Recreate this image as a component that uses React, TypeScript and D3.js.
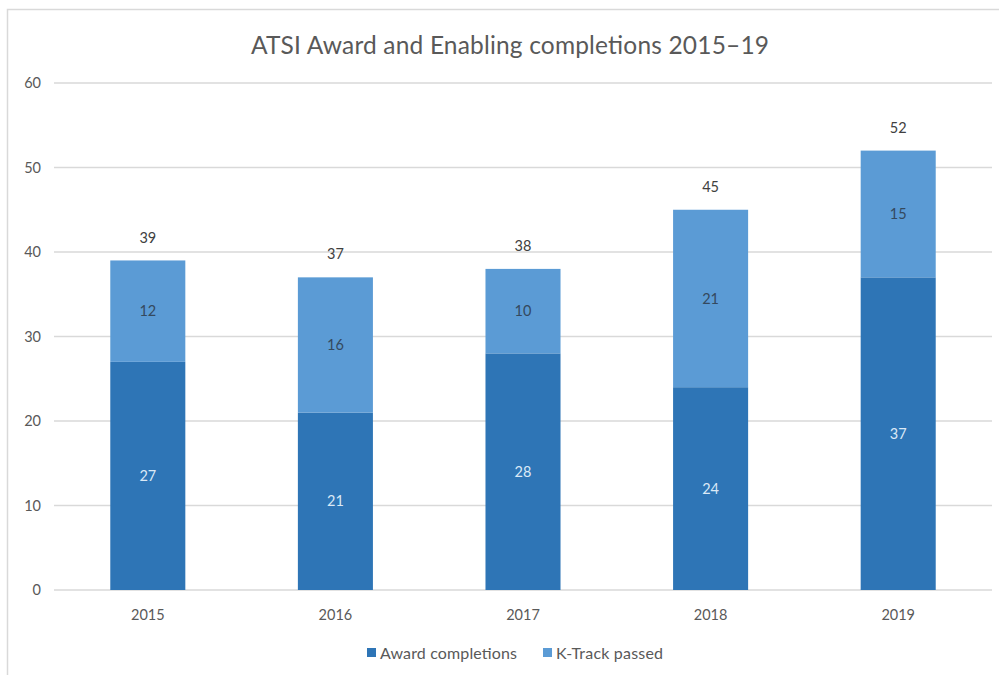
import React from "react";
import * as d3 from "d3";

const years = ["2015", "2016", "2017", "2018", "2019"];
const award = [27, 21, 28, 24, 37];
const ktrack = [12, 16, 10, 21, 15];
const totals = [39, 37, 38, 45, 52];
const yTicks = [0, 10, 20, 30, 40, 50, 60];
const seriesNames = ["Award completions", "K-Track passed"];
const colors = ["#2E75B6", "#5B9BD5"];

const W = 999;
const H = 675;
const font = "Lato, 'Open Sans', sans-serif";

export default function App() {
  const x = d3.scaleBand().domain(years).range([54, 992]).paddingInner(0.6).paddingOuter(0.3);
  const y = d3.scaleLinear().domain([0, 60]).range([590, 83]);
  const bw = x.bandwidth();

  return (
    <svg width={W} height={H} style={{ position: "absolute", left: 0, top: 0, background: "#fff" }} fontFamily={font}>
      <rect x={7.5} y={9.5} width={995} height={700} fill="#fff" stroke="#d9d9d9" strokeWidth={1.5} />
      <text x={510} y={54} textAnchor="middle" fontSize={24.5} fill="#595959" textLength={518} lengthAdjust="spacing">
        ATSI Award and Enabling completions 2015–19
      </text>
      {yTicks.map((t) => (
        <g key={t}>
          <line x1={54} x2={992} y1={y(t)} y2={y(t)} stroke="#d9d9d9" strokeWidth={1.5} />
          <text x={41} y={y(t)} dy="0.35em" textAnchor="end" fontSize={14.5} fill="#595959">
            {t}
          </text>
        </g>
      ))}
      {years.map((yr, i) => {
        const x0 = x(yr)!;
        const cx = x0 + bw / 2;
        return (
          <g key={yr}>
            <rect x={x0} y={y(award[i])} width={bw} height={y(0) - y(award[i])} fill={colors[0]} />
            <rect x={x0} y={y(award[i] + ktrack[i])} width={bw} height={y(award[i]) - y(award[i] + ktrack[i])} fill={colors[1]} />
            <text x={cx} y={(y(0) + y(award[i])) / 2} dy="0.35em" textAnchor="middle" fontSize={14.5} fill="#dbe9f6">
              {award[i]}
            </text>
            <text x={cx} y={(y(award[i]) + y(award[i] + ktrack[i])) / 2} dy="0.35em" textAnchor="middle" fontSize={14.5} fill="#34495e">
              {ktrack[i]}
            </text>
            <text x={cx} y={y(totals[i]) - 23} dy="0.35em" textAnchor="middle" fontSize={14.5} fill="#404040">
              {totals[i]}
            </text>
            <text x={cx} y={615} dy="0.35em" textAnchor="middle" fontSize={14.5} fill="#595959">
              {yr}
            </text>
          </g>
        );
      })}
      {seriesNames.map((s, i) => {
        const lx = i === 0 ? 367 : 543;
        return (
          <g key={s}>
            <rect x={lx} y={648} width={9} height={9} fill={colors[i]} />
            <text x={lx + 13} y={653} dy="0.35em" fontSize={16} fill="#595959" textLength={i === 0 ? 137 : 107} lengthAdjust="spacing">
              {s}
            </text>
          </g>
        );
      })}
    </svg>
  );
}
